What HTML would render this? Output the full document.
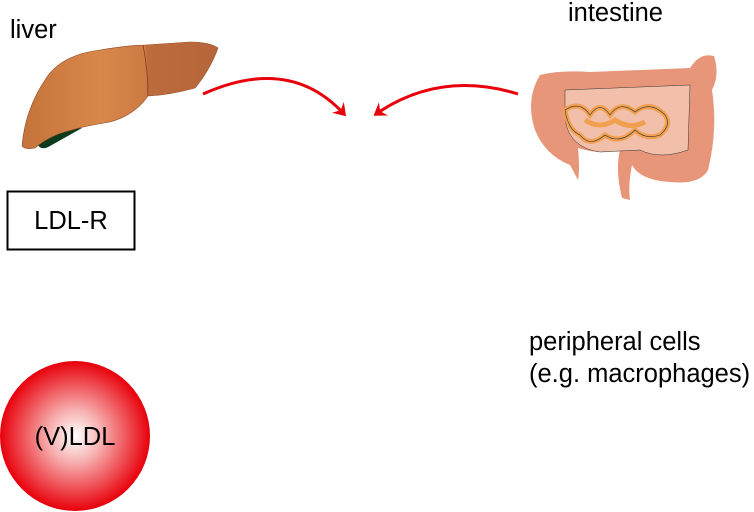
<!DOCTYPE html>
<html><head><meta charset="utf-8"><style>
html,body{margin:0;padding:0;background:#fff;width:754px;height:512px;overflow:hidden}
svg{display:block}
text{font-family:"Liberation Sans",sans-serif;fill:#000}
</style></head><body>
<svg width="754" height="512" viewBox="0 0 754 512">
<defs>
<radialGradient id="rg" cx="0.5" cy="0.5" r="0.5">
<stop offset="0" stop-color="#fff"/><stop offset="0.35" stop-color="#f7b0b0"/><stop offset="1" stop-color="#e8000b"/>
</radialGradient>
<linearGradient id="lv" x1="0" y1="0" x2="1" y2="0">
<stop offset="0" stop-color="#c4733a"/><stop offset="0.4" stop-color="#d9874a"/><stop offset="1" stop-color="#b8673a"/>
</linearGradient>
<marker id="ah" markerWidth="16" markerHeight="16" refX="9" refY="8" orient="auto" markerUnits="userSpaceOnUse">
<path d="M0,0 L12,8 L0,16 L4,8 Z" fill="#e8000b"/>
</marker>
</defs>
<text x="10" y="38" font-size="25.5">liver</text>
<text x="568" y="21" font-size="25.5">intestine</text>
<!-- liver -->
<path d="M36,142 Q40,152 50,146 L82,128 Q55,128 36,142Z" fill="#0c3a1c"/>
<path d="M22,146 Q25,110 45,80 Q60,55 100,50 Q130,45 145,45 L190,42 Q210,42 218,48 Q210,70 195,88 Q170,95 148,96 Q135,115 110,122 Q85,126 72,130 Q50,135 35,148 Q25,150 22,146Z" fill="url(#lv)" stroke="#8a4a2a" stroke-width="0.6"/>
<path d="M146,45 L190,42 Q210,42 218,48 Q210,70 195,88 Q170,95 148,96 Q148,70 146,45Z" fill="#b5653a" opacity="0.7"/>
<path d="M143,45 Q148,70 148,96" stroke="#7a3e22" stroke-width="0.8" fill="none"/>
<!-- arrows -->
<path d="M203,94 Q290,55 344,114" stroke="#e8000b" stroke-width="3" fill="none" marker-end="url(#ah)"/>
<path d="M518,94 Q440,70 376,114" stroke="#e8000b" stroke-width="3" fill="none" marker-end="url(#ah)"/>
<!-- intestine -->
<g>
<path d="M540,75 Q560,70 590,72 L690,68 Q700,52 714,56 Q720,75 712,90 Q718,130 708,170 Q700,185 670,182 Q640,180 632,165 Q628,185 630,200 L622,198 Q615,170 620,150 Q600,155 578,148 Q580,170 578,180 L570,165 Q545,155 535,130 Q525,100 540,75Z" fill="#e8967a"/>
<path d="M565,90 L690,85 L688,150 Q660,160 640,150 L600,152 Q570,148 565,120Z" fill="#f2c0aa" stroke="#333" stroke-width="0.5"/>
<path d="M565,110 Q580,100 590,115 Q600,100 610,115 Q620,100 635,112 Q650,100 665,115 Q672,125 660,135 Q645,140 635,130 Q620,145 605,135 Q590,148 580,135 Q568,130 565,110Z M585,120 Q600,130 615,120 Q630,130 645,122" fill="none" stroke="#f0a050" stroke-width="5"/>
<path d="M565,110 Q580,100 590,115 Q600,100 610,115 Q620,100 635,112 Q650,100 665,115 Q672,125 660,135 Q645,140 635,130 Q620,145 605,135 Q590,148 580,135 Q568,130 565,110Z" fill="none" stroke="#333" stroke-width="0.6"/>
</g>
<!-- LDL-R box -->
<rect x="7.5" y="191.5" width="127" height="58" fill="#fff" stroke="#000" stroke-width="2"/>
<text x="71" y="229" font-size="25.5" text-anchor="middle">LDL-R</text>
<text x="529" y="350" font-size="25.5">peripheral cells</text>
<text x="529" y="382" font-size="25.5">(e.g. macrophages)</text>
<circle cx="75" cy="436" r="75" fill="url(#rg)"/>
<text x="75" y="445" font-size="25.5" text-anchor="middle">(V)LDL</text>
</svg>
</body></html>
